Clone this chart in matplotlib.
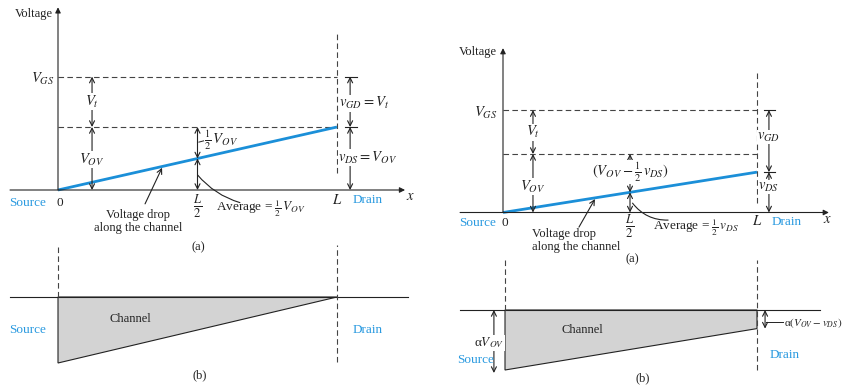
import numpy as np
import matplotlib
matplotlib.use('Agg')
import matplotlib.pyplot as plt

plt.rcParams['font.family'] = ['Liberation Serif', 'DejaVu Serif']
plt.rcParams['mathtext.fontset'] = 'stix'
plt.rcParams['font.size'] = 9

# channel length and voltages (arbitrary units)
L = 1.0
# left figure: v_DS = V_OV (edge of saturation)
VOV_L = 1.0
VT_L = 0.8
VDS_L = VOV_L
# right figure: small v_DS
VOV_R = 1.0
VT_R = 0.75
VDS_R = 0.69
ALPHA = 1.0   # channel depth per volt of overdrive

W, H = 843, 388
INK = '#222222'
BLUE = '#1b8fd8'
TBLUE = '#2a9ae0'
GREY = '#d3d3d3'
MS = 10.5  # size for math labels

fig = plt.figure(figsize=(W / 100, H / 100), dpi=100)


def panel(x0, y0, sx, sy):
    # full-figure axes, data origin at pixel (x0, y0), sx/sy pixels per unit
    ax = fig.add_axes([0, 0, 1, 1])
    ax.set_xlim(-x0 / sx, (W - x0) / sx)
    ax.set_ylim((y0 - H) / sy, y0 / sy)
    ax.axis('off')
    return ax


def darrow(ax, x, y1, y2):
    ax.annotate('', xy=(x, y2), xytext=(x, y1),
                arrowprops=dict(arrowstyle='<->', lw=0.8, color=INK,
                                shrinkA=0, shrinkB=0))


def axarrow(ax, p0, p1):
    ax.annotate('', xy=p1, xytext=p0,
                arrowprops=dict(arrowstyle='-|>', lw=0.8, color=INK,
                                mutation_scale=8, shrinkA=0, shrinkB=0))


def dashed(ax, xs, ys):
    ax.plot(xs, ys, ls=(0, (5, 3)), lw=0.8, color='#444444')


def label(ax, x, y, s, ha='center', va='center', white=False, **kw):
    kw.setdefault('color', INK)
    if white:
        kw['bbox'] = dict(facecolor='white', edgecolor='none', pad=0.3)
    ax.text(x, y, s, ha=ha, va=va, **kw)


# ---------------- left (a) ----------------
ax = panel(58, 190, 279, 63)
vgs = VOV_L + VT_L
axarrow(ax, (-0.172, 0), (1.244, 0))
axarrow(ax, (0, 0), (0, 2.9))
dashed(ax, [0, L], [vgs, vgs])
dashed(ax, [0, L], [VOV_L, VOV_L])
dashed(ax, [L, L], [0.27, 2.49])
ax.plot([0, L], [0, VDS_L], color=BLUE, lw=2, solid_capstyle='butt')

xa = 0.122 * L
darrow(ax, xa, vgs, VOV_L)
darrow(ax, xa, VOV_L, 0)
label(ax, xa, VOV_L + VT_L / 2, r'$V_t$', white=True, fontsize=MS)
label(ax, xa, 0.48 * VOV_L, r'$V_{OV}$', white=True, fontsize=MS)

xm = L / 2
vm = VDS_L * xm / L
darrow(ax, xm, VOV_L, vm)
darrow(ax, xm, vm, 0)
ax.plot([xm + 0.005, xm + 0.022], [0.76, 0.78], color=INK, lw=0.7)
label(ax, xm + 0.024, 0.79, r'$\frac{1}{2}\,V_{OV}$', ha='left', fontsize=MS)
ax.annotate('', xy=(xm, 0.24), xytext=(0.652, -0.2),
            arrowprops=dict(arrowstyle='-', lw=0.8, color=INK,
                            connectionstyle='arc3,rad=-0.15', shrinkA=0, shrinkB=0))
label(ax, 0.566, -0.30, r'Average = $\frac{1}{2}\,V_{OV}$', ha='left', fontsize=9.5)

xr = 1.047 * L
darrow(ax, xr, vgs, VDS_L)
darrow(ax, xr, VDS_L, 0)
for yy in (vgs, VDS_L):
    ax.plot([1.029, 1.072], [yy, yy], color=INK, lw=0.8)
label(ax, 1.007, 1.38, r'$v_{GD} = V_t$', ha='left', white=True, fontsize=MS)
label(ax, 1.005, 0.51, r'$v_{DS} = V_{OV}$', ha='left', white=True, fontsize=MS)

label(ax, -0.018, 2.79, 'Voltage', ha='right')
label(ax, -0.012, vgs - 0.04, r'$V_{GS}$', ha='right', fontsize=MS)
label(ax, -0.176, -0.2, 'Source', ha='left', color=TBLUE, fontsize=9.5)
label(ax, 0.007, -0.2, '0', fontsize=9.5)
label(ax, xm, -0.26, r'$\frac{L}{2}$', fontsize=13)
label(ax, L, -0.16, r'$L$', fontsize=MS)
label(ax, 1.057, -0.16, 'Drain', ha='left', color=TBLUE, fontsize=9.5)
label(ax, 1.262, -0.11, r'$x$', fontsize=MS)
ax.annotate('', xy=(0.373, VDS_L * 0.373 - 0.02), xytext=(0.312, -0.22),
            arrowprops=dict(arrowstyle='->', lw=0.8, color=INK, shrinkA=0, shrinkB=0))
label(ax, 0.287, -0.5, 'Voltage drop\nalong the channel', linespacing=1.05)
label(ax, 0.502, -0.905, '(a)')

# ---------------- left (b) ----------------
ax = panel(58, 297, 279, 66)
ax.plot([-0.172, 1.254], [0, 0], color=INK, lw=0.8)
dashed(ax, [0, 0], [0, 0.79])
dashed(ax, [L, L], [-0.985, 0.79])
ch_x = np.array([0, L])
ch_d = ALPHA * (VOV_L - VDS_L * ch_x / L)
ax.fill(np.r_[ch_x, ch_x[::-1]], np.r_[0, 0, -ch_d[::-1]],
        facecolor=GREY, edgecolor=INK, lw=0.8)
label(ax, 0.258, -0.333, 'Channel')
label(ax, -0.176, -0.5, 'Source', ha='left', color=TBLUE, fontsize=9.5)
label(ax, 1.057, -0.5, 'Drain', ha='left', color=TBLUE, fontsize=9.5)
label(ax, 0.509, -1.18, '(b)')

# ---------------- right (a) ----------------
ax = panel(503, 212.5, 254, 58.5)
vgs = VOV_R + VT_R
axarrow(ax, (-0.169, 0), (1.283, 0))
axarrow(ax, (0, 0), (0, 2.81))
dashed(ax, [0, L], [vgs, vgs])
dashed(ax, [0, L], [VOV_R, VOV_R])
dashed(ax, [L, L], [0.16, 2.38])
ax.plot([0, L], [0, VDS_R], color=BLUE, lw=2, solid_capstyle='butt')

xa = 0.118 * L
darrow(ax, xa, vgs, VOV_R)
darrow(ax, xa, VOV_R, 0)
label(ax, xa, VOV_R + VT_R / 2, r'$V_t$', white=True, fontsize=MS)
label(ax, xa, 0.44 * VOV_R, r'$V_{OV}$', white=True, fontsize=MS)

xm = L / 2
vm = VDS_R * xm / L
darrow(ax, xm, VOV_R, vm)
darrow(ax, xm, vm, 0)
label(ax, xm, 0.69, r'$(V_{OV} - \frac{1}{2}\,v_{DS})$', white=True, fontsize=MS)
ax.annotate('', xy=(xm + 0.01, 0.16), xytext=(0.65, -0.13),
            arrowprops=dict(arrowstyle='-', lw=0.8, color=INK,
                            connectionstyle='arc3,rad=-0.25', shrinkA=0, shrinkB=0))
label(ax, 0.59, -0.265, r'Average = $\frac{1}{2}\,v_{DS}$', ha='left', fontsize=9.5)

xr = 1.047 * L
darrow(ax, xr, vgs, VDS_R)
darrow(ax, xr, VDS_R, 0)
for yy in (vgs, VDS_R):
    ax.plot([1.028, 1.071], [yy, yy], color=INK, lw=0.8)
label(ax, xr, 1.29, r'$v_{GD}$', white=True, fontsize=MS)
label(ax, xr, 0.436, r'$v_{DS}$', white=True, fontsize=MS)

label(ax, -0.024, 2.74, 'Voltage', ha='right')
label(ax, -0.02, vgs - 0.05, r'$V_{GS}$', ha='right', fontsize=MS)
label(ax, -0.173, -0.18, 'Source', ha='left', color=TBLUE, fontsize=9.5)
label(ax, 0.008, -0.18, '0', fontsize=9.5)
label(ax, xm, -0.23, r'$\frac{L}{2}$', fontsize=13)
label(ax, L, -0.145, r'$L$', fontsize=MS)
label(ax, 1.059, -0.16, 'Drain', ha='left', color=TBLUE, fontsize=9.5)
label(ax, 1.276, -0.128, r'$x$', fontsize=MS)
ax.annotate('', xy=(0.362, VDS_R * 0.362 - 0.02), xytext=(0.299, -0.25),
            arrowprops=dict(arrowstyle='->', lw=0.8, color=INK, shrinkA=0, shrinkB=0))
label(ax, 0.114, -0.479, 'Voltage drop\nalong the channel', ha='left', linespacing=1.05)
label(ax, 0.508, -0.795, '(a)')

# ---------------- right (b) ----------------
ax = panel(505, 310, 252, 60)
ax.plot([-0.179, 1.25], [0, 0], color=INK, lw=0.8)
dashed(ax, [0, 0], [0, 0.833])
dashed(ax, [L, L], [-1.0, 0.833])
ch_x = np.array([0, L])
ch_d = ALPHA * (VOV_R - VDS_R * ch_x / L)
ax.fill(np.r_[ch_x, ch_x[::-1]], np.r_[0, 0, -ch_d[::-1]],
        facecolor=GREY, edgecolor=INK, lw=0.8)
darrow(ax, -0.044, 0, -1.05 * ch_d[0])
label(ax, -0.063, -0.55, r'α$V_{OV}$', white=True, fontsize=9.5)
darrow(ax, 1.032, 0, -ch_d[1])
ax.plot([1.036, 1.103], [-0.2, -0.2], color=INK, lw=0.7)
label(ax, 1.107, -0.21, r'α$(V_{OV} - v_{DS})$', ha='left', fontsize=8)
label(ax, 0.306, -0.333, 'Channel')
label(ax, -0.19, -0.84, 'Source', ha='left', color=TBLUE, fontsize=9.5)
label(ax, 1.052, -0.75, 'Drain', ha='left', color=TBLUE, fontsize=9.5)
label(ax, 0.548, -1.133, '(b)')

fig.savefig('out.png', dpi=100)
